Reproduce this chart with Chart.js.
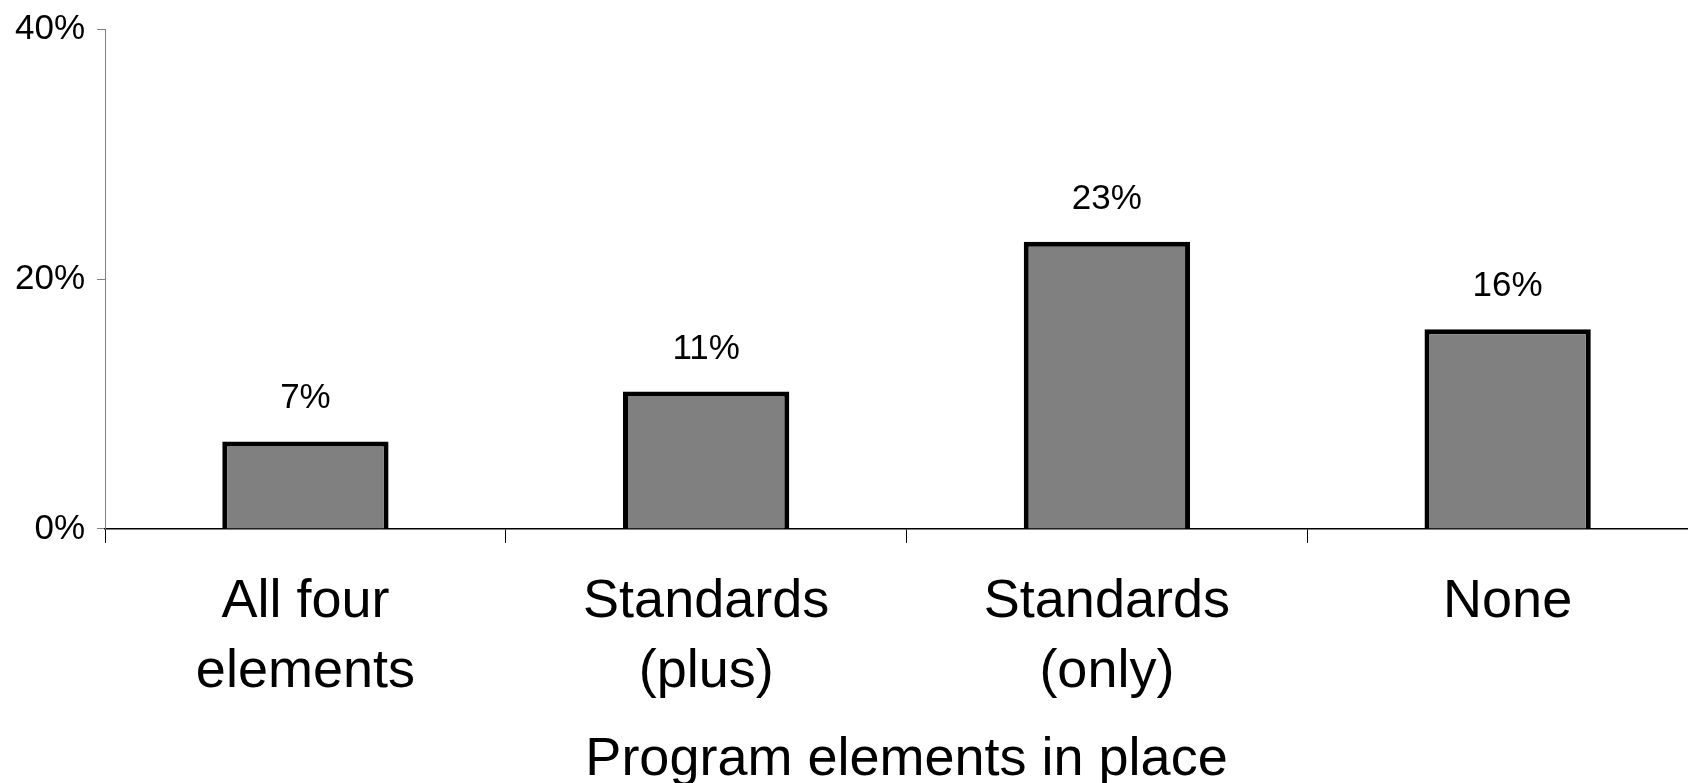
<!DOCTYPE html>
<html>
<head>
<meta charset="utf-8">
<script src="https://cdn.jsdelivr.net/npm/chart.js@4/dist/chart.umd.min.js"></script>
<style>
  html, body { margin: 0; padding: 0; background: #fff; overflow: hidden; }
  /* the plot runs a little past the right edge in the original */
  #wrap { width: 1708px; height: 783px; }
</style>
</head>
<body>
<div id="wrap"><canvas id="chart"></canvas></div>
<script>
const categories = [
  ['All four', 'elements'],
  ['Standards', '(plus)'],
  ['Standards', '(only)'],
  ['None']
];
const shares = [7, 11, 23, 16];
const yTicks = [0, 20, 40];
const axisTitle = 'Program elements in place';

const fontFamily = '"Liberation Sans", Arial, sans-serif';

// draws the "7%" style numbers above each bar
const barLabels = {
  id: 'barLabels',
  afterDatasetsDraw(chart) {
    const ctx = chart.ctx;
    const meta = chart.getDatasetMeta(0);
    ctx.save();
    ctx.font = '35px ' + fontFamily;
    ctx.fillStyle = '#000';
    ctx.textAlign = 'center';
    ctx.textBaseline = 'alphabetic';
    meta.data.forEach((bar, i) => {
      ctx.fillText(shares[i] + '%', bar.x, bar.y - 33);
    });
    ctx.restore();
  }
};

const data = {
  labels: categories,
  datasets: [{
    data: shares,
    backgroundColor: '#808080',
    borderColor: '#000000',
    borderWidth: 5,
    barPercentage: 0.415,
    categoryPercentage: 1.0
  }]
};

const config = {
  type: 'bar',
  data,
  options: {
    responsive: true,
    maintainAspectRatio: false,
    animation: false,
    layout: { padding: { top: 29, left: 3, right: 0, bottom: 5 } },
    plugins: {
      legend: { display: false },
      tooltip: { enabled: false }
    },
    scales: {
      x: {
        grid: {
          display: true,
          drawOnChartArea: false,
          drawTicks: true,
          tickLength: 14,
          color: '#000'
        },
        border: { display: true, color: '#000', width: 1.5 },
        ticks: {
          color: '#000',
          padding: 24,
          maxRotation: 0,
          autoSkip: false,
          font: { family: fontFamily, size: 54, lineHeight: 1.3 }
        },
        title: {
          display: true,
          text: axisTitle,
          color: '#000',
          padding: { top: 10, bottom: 0 },
          font: { family: fontFamily, size: 54, lineHeight: 0.68 }
        }
      },
      y: {
        min: 0,
        max: 40,
        afterBuildTicks(scale) {
          scale.ticks = yTicks.map(v => ({ value: v }));
        },
        grid: {
          display: true,
          drawOnChartArea: false,
          drawTicks: true,
          tickLength: 8,
          color: '#808080'
        },
        border: { display: true, color: '#808080', width: 1 },
        ticks: {
          color: '#000',
          padding: 12,
          font: { family: fontFamily, size: 35, lineHeight: 1.0 },
          callback: v => v + '%'
        }
      }
    }
  },
  plugins: [barLabels]
};

const myChart = new Chart(document.getElementById('chart'), config);
</script>
</body>
</html>
